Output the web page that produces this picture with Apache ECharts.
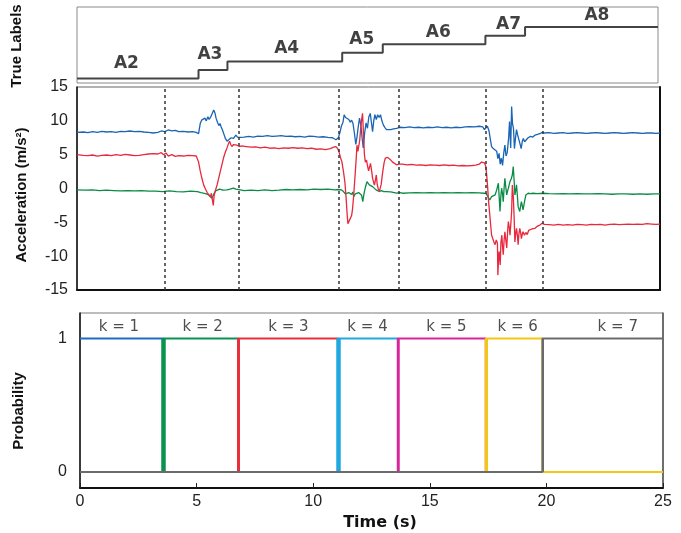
<!DOCTYPE html>
<html><head><meta charset="utf-8">
<script src="https://cdn.jsdelivr.net/npm/echarts@6/dist/echarts.min.js"></script>
<style>html,body{margin:0;padding:0;background:#fff}#c{width:681px;height:533px}</style>
</head><body><div id="c"></div>
<script>
// ---------------- data ----------------
const trueLabels = ['A2','A3','A4','A5','A6','A7','A8'];
const trueLevels = [2,3,4,5,6,7,8];
const trueBounds = [-0.15, 5.06, 6.30, 11.22, 12.96, 17.36, 19.06, 24.76];
const trueLabelX = [1.97, 5.55, 8.84, 12.06, 15.34, 18.35, 22.14];
const trueLabelY = [3.74, 4.79, 5.49, 6.57, 7.35, 8.31, 9.28];

const accBlue = [[-0.17,8.3],[0.1,8.35],[0.3,8.25],[0.5,8.4],[0.7,8.3],[0.9,8.45],[1.1,8.35],[1.3,8.4],[1.5,8.3],[1.7,8.45],[1.9,8.4],[2.1,8.5],[2.3,8.4],[2.5,8.45],[2.7,8.35],[2.9,8.3],[3.1,8.2],[3.3,8.3],[3.45,8.5],[3.6,8.4],[3.75,8.65],[3.9,8.5],[4.05,8.6],[4.2,8.4],[4.4,8.45],[4.6,8.35],[4.8,8.4],[4.95,8.3],[5.05,8.1],
[5.12,9.6],[5.18,10.1],[5.25,9.9],[5.32,10.4],[5.38,10.0],[5.45,10.6],[5.5,10.2],[5.56,10.5],[5.62,10.3],[5.7,11.6],[5.75,11.2],[5.8,10.4],[5.86,9.8],[5.92,9.3],[5.97,9.6],[6.02,9.1],[6.08,8.6],[6.14,8.0],[6.2,7.4],[6.27,7.0],[6.35,7.1],[6.45,7.5],[6.55,7.4],[6.65,7.9],[6.72,7.6],[6.85,7.55],[7.0,7.6],
[7.2,7.7],[7.4,7.6],[7.6,7.75],[7.8,7.7],[8.0,7.8],[8.2,7.7],[8.4,7.75],[8.6,7.8],[8.8,7.7],[9.0,7.75],[9.2,7.65],[9.4,7.7],[9.6,7.6],[9.8,7.75],[10.0,7.7],[10.2,7.6],[10.4,7.65],[10.6,7.55],[10.8,7.5],[10.95,7.2],[11.05,7.5],
[11.12,8.3],[11.18,9.2],[11.25,9.8],[11.3,10.9],[11.36,10.5],[11.42,10.7],[11.5,10.2],[11.56,9.8],[11.62,10.1],[11.68,9.6],[11.74,8.2],[11.8,6.5],[11.85,7.6],[11.9,9.0],[11.96,10.4],[12.02,9.3],[12.07,7.5],[12.12,6.0],[12.18,8.2],[12.24,9.7],[12.3,8.9],[12.36,10.6],[12.42,11.1],[12.48,9.5],[12.52,8.4],[12.57,10.0],[12.62,10.9],[12.68,10.2],[12.74,10.9],[12.8,10.5],[12.86,10.9],[12.92,10.0],[12.98,9.4],[13.05,9.0],[13.12,8.7],[13.2,8.6],[13.3,8.7],[13.42,8.8],[13.55,8.9],[13.7,9.05],
[13.9,9.0],[14.1,9.1],[14.3,9.0],[14.5,9.05],[14.7,8.95],[14.9,9.05],[15.1,9.0],[15.3,9.1],[15.5,9.0],[15.7,9.05],[15.9,8.95],[16.1,9.05],[16.3,9.0],[16.5,9.1],[16.7,9.15],[16.9,9.1],[17.1,9.2],[17.25,9.1],[17.32,8.7],[17.38,8.8],[17.45,9.2],
[17.52,8.5],[17.58,7.2],[17.63,6.2],[17.7,5.9],[17.78,6.1],[17.85,5.5],[17.9,4.4],[17.95,5.2],[18.0,3.6],[18.05,4.5],[18.1,3.4],[18.15,5.2],[18.2,6.4],[18.25,4.8],[18.3,5.3],[18.36,7.4],[18.4,9.9],[18.45,6.0],[18.49,12.1],[18.53,9.5],[18.57,8.9],[18.61,5.9],[18.66,7.6],[18.7,8.7],[18.75,7.9],[18.8,7.7],[18.85,6.6],[18.9,5.9],[18.95,7.0],[18.99,7.4],[19.05,6.9],[19.12,7.2],[19.2,7.5],[19.3,7.7],[19.4,7.6],[19.5,7.9],[19.6,8.0],[19.7,8.1],[19.8,8.3],[19.9,8.2],
[20.1,8.25],[20.3,8.15],[20.5,8.2],[20.7,8.25],[20.9,8.15],[21.1,8.2],[21.3,8.25],[21.5,8.2],[21.7,8.15],[21.9,8.2],[22.1,8.25],[22.3,8.2],[22.5,8.15],[22.7,8.2],[22.9,8.25],[23.1,8.2],[23.3,8.15],[23.5,8.2],[23.7,8.25],[23.9,8.2],[24.1,8.15],[24.3,8.2],[24.5,8.2],[24.7,8.15],[24.86,8.2]];

const accRed = [[-0.17,5.0],[0.1,4.9],[0.3,4.85],[0.5,4.95],[0.7,4.8],[0.9,4.9],[1.1,4.95],[1.3,4.85],[1.5,5.0],[1.7,4.9],[1.9,5.05],[2.1,4.95],[2.3,4.85],[2.5,4.9],[2.7,5.0],[2.9,5.1],[3.1,5.15],[3.3,5.1],[3.45,5.3],[3.55,5.0],[3.65,5.25],[3.75,4.8],[3.9,5.0],[4.05,4.75],[4.2,4.85],[4.4,4.8],[4.6,4.9],[4.8,4.85],[4.95,4.8],
[5.05,3.9],[5.12,2.6],[5.2,1.4],[5.27,0.5],[5.35,-0.1],[5.42,-0.6],[5.5,-0.8],[5.56,-1.2],[5.6,-0.7],[5.64,-1.6],[5.68,-2.5],[5.72,-1.0],[5.78,-0.2],[5.85,0.6],[5.92,1.6],[5.98,2.5],[6.05,3.5],[6.12,4.5],[6.2,5.4],[6.27,6.0],[6.33,6.6],[6.38,7.0],[6.43,6.5],[6.48,6.2],[6.55,6.5],[6.62,6.3],[6.7,6.4],[6.8,6.2],[6.9,6.3],
[7.1,6.2],[7.3,6.1],[7.5,6.15],[7.7,6.0],[7.9,6.1],[8.1,5.95],[8.3,6.0],[8.5,5.9],[8.7,6.0],[8.9,5.95],[9.1,6.05],[9.3,5.95],[9.5,6.0],[9.7,5.9],[9.9,5.95],[10.1,5.8],[10.3,5.85],[10.5,5.75],[10.7,5.9],[10.85,6.1],[10.95,6.2],[11.02,5.9],
[11.08,5.4],[11.14,4.6],[11.2,4.0],[11.27,2.5],[11.33,1.0],[11.38,-1.2],[11.42,-3.4],[11.46,-5.2],[11.5,-5.4],[11.54,-4.6],[11.58,-4.4],[11.62,-4.0],[11.66,-3.0],[11.71,-1.0],[11.75,1.0],[11.78,2.5],[11.82,4.6],[11.85,6.4],[11.89,5.5],[11.93,5.3],[11.97,7.2],[12.01,8.9],[12.05,10.2],[12.09,11.1],[12.13,8.0],[12.17,5.0],[12.21,3.9],[12.26,4.2],[12.3,3.4],[12.35,2.6],[12.39,2.4],[12.43,3.7],[12.48,2.6],[12.52,1.5],[12.56,1.0],[12.6,0.5],[12.64,1.2],[12.68,2.0],[12.72,0.6],[12.76,0.0],[12.81,-0.45],[12.85,0.1],[12.89,0.6],[12.93,1.8],[12.97,2.8],[13.02,3.9],[13.07,4.5],[13.12,4.7],[13.17,4.6],[13.24,4.4],[13.3,4.2],[13.38,3.9],[13.46,3.7],[13.55,3.5],[13.65,3.6],[13.8,3.6],
[14.0,3.5],[14.2,3.55],[14.4,3.45],[14.6,3.5],[14.8,3.4],[15.0,3.5],[15.2,3.45],[15.4,3.4],[15.6,3.5],[15.8,3.4],[16.0,3.45],[16.2,3.35],[16.4,3.4],[16.6,3.35],[16.8,3.4],[16.95,3.45],[17.1,3.6],[17.2,3.9],[17.26,4.0],[17.32,3.8],[17.38,3.3],
[17.42,2.0],[17.46,0.2],[17.5,-1.9],[17.55,-3.8],[17.59,-5.4],[17.63,-6.9],[17.68,-7.4],[17.73,-7.9],[17.78,-8.3],[17.83,-7.6],[17.88,-8.1],[17.9,-12.8],[17.93,-10.2],[17.95,-9.3],[17.98,-10.5],[18.0,-11.3],[18.03,-8.0],[18.07,-6.9],[18.1,-8.6],[18.13,-9.8],[18.17,-7.5],[18.2,-6.4],[18.24,-7.6],[18.28,-8.8],[18.32,-6.2],[18.35,-4.9],[18.39,-5.8],[18.42,-6.9],[18.46,-5.0],[18.49,-3.4],[18.52,0.5],[18.54,-0.2],[18.56,-1.0],[18.6,-4.5],[18.63,-7.9],[18.67,-6.5],[18.7,-5.9],[18.74,-7.0],[18.77,-8.3],[18.8,-6.8],[18.84,-5.9],[18.88,-6.6],[18.91,-7.4],[18.95,-6.7],[18.98,-6.4],[19.04,-6.9],[19.1,-6.5],[19.16,-6.8],[19.22,-6.2],[19.3,-6.1],[19.38,-5.95],[19.48,-5.9],[19.58,-5.6],[19.7,-5.4],[19.8,-5.15],[19.9,-5.3],
[20.1,-5.35],[20.3,-5.4],[20.5,-5.3],[20.7,-5.4],[20.9,-5.35],[21.1,-5.4],[21.3,-5.3],[21.5,-5.35],[21.7,-5.4],[21.9,-5.3],[22.1,-5.35],[22.3,-5.3],[22.5,-5.4],[22.7,-5.3],[22.9,-5.25],[23.1,-5.35],[23.3,-5.3],[23.5,-5.25],[23.7,-5.3],[23.9,-5.25],[24.1,-5.3],[24.3,-5.2],[24.5,-5.25],[24.7,-5.3],[24.86,-5.25]];

const accGreen = [[-0.17,-0.2],[0.2,-0.25],[0.5,-0.2],[0.8,-0.3],[1.1,-0.25],[1.4,-0.3],[1.7,-0.35],[2.0,-0.3],[2.3,-0.35],[2.6,-0.3],[2.9,-0.4],[3.2,-0.4],[3.5,-0.45],[3.8,-0.35],[4.1,-0.45],[4.4,-0.5],[4.7,-0.4],[5.0,-0.45],[5.15,-0.6],[5.26,-0.7],[5.38,-0.8],[5.48,-0.95],[5.55,-0.8],[5.62,-1.45],[5.67,-1.1],[5.72,-0.7],[5.78,-0.35],[5.84,-0.2],[5.95,-0.1],[6.1,-0.25],[6.27,-0.2],[6.4,-0.1],[6.55,0.05],[6.65,-0.1],[6.84,-0.2],[7.0,-0.3],[7.3,-0.25],[7.6,-0.3],[7.9,-0.2],[8.2,-0.3],[8.5,-0.25],[8.8,-0.15],[9.1,-0.2],[9.4,-0.15],[9.7,-0.2],[10.0,-0.1],[10.3,-0.15],[10.6,-0.1],[10.9,-0.2],
[11.05,-0.15],[11.1,0.05],[11.18,-0.2],[11.27,-0.45],[11.35,-0.8],[11.42,-0.95],[11.5,-0.6],[11.56,-0.7],[11.62,-0.9],[11.67,-0.5],[11.71,-1.2],[11.78,-0.8],[11.85,-0.95],[11.92,-0.6],[12.0,-0.7],[12.05,-1.0],[12.1,-1.94],[12.14,-1.0],[12.17,-0.45],[12.22,0.3],[12.28,1.0],[12.35,1.27],[12.38,0.53],[12.44,0.8],[12.52,0.28],[12.6,0.0],[12.67,-0.2],[12.75,-0.3],[12.81,-0.45],[12.9,-0.3],[13.0,-0.45],[13.1,-0.45],[13.3,-0.5],[13.55,-0.7],[13.7,-0.6],[13.8,-0.7],
[14.1,-0.65],[14.4,-0.6],[14.7,-0.65],[15.0,-0.6],[15.3,-0.65],[15.6,-0.6],[15.9,-0.65],[16.2,-0.6],[16.5,-0.65],[16.8,-0.6],[17.1,-0.65],[17.3,-0.7],[17.4,-0.75],[17.47,-0.95],[17.55,-1.7],[17.63,-1.2],[17.7,-1.1],[17.78,-0.95],[17.85,-0.2],[17.92,0.78],[17.96,-1.5],[17.99,-3.4],[18.03,-1.0],[18.06,0.04],[18.1,-0.8],[18.13,-1.94],[18.17,0.2],[18.2,1.52],[18.24,0.2],[18.28,-0.95],[18.32,-0.3],[18.35,0.04],[18.39,0.6],[18.42,1.02],[18.47,1.4],[18.52,2.0],[18.56,3.24],[18.6,1.0],[18.63,-0.95],[18.67,-0.2],[18.7,0.53],[18.74,-1.2],[18.77,-2.68],[18.8,-3.0],[18.84,-3.4],[18.88,-2.5],[18.91,-1.94],[18.95,-2.6],[18.98,-3.17],[19.04,-2.0],[19.1,-0.95],[19.2,-0.7],[19.3,-0.75],[19.4,-0.7],[19.6,-0.75],[19.84,-0.7],
[20.1,-0.75],[20.4,-0.8],[20.7,-0.75],[21.0,-0.8],[21.3,-0.75],[21.6,-0.8],[21.9,-0.8],[22.2,-0.75],[22.5,-0.8],[22.8,-0.85],[23.1,-0.8],[23.4,-0.8],[23.7,-0.85],[24.0,-0.8],[24.3,-0.85],[24.6,-0.8],[24.86,-0.8]];

const kLabels = ['k = 1','k = 2','k = 3','k = 4','k = 5','k = 6','k = 7'];
const kBounds = [0, 3.58, 6.79, 11.08, 13.63, 17.4, 19.83, 25];
const kLabelX = [1.67, 5.26, 8.94, 12.33, 15.71, 18.77, 23.06];
const kLabelY = 1.084;
const probTicks = [0, 1];

// ---------------- styles ----------------
const kColors = ['#1f6cc0','#0a9250','#e8303c','#20a8e0','#e0229a','#f2c814','#6b6b6b'];
const kEdgeWidth = [0, 4.5, 3, 4.5, 2.5, 3, 2];
const accColors = { blue:'#1a64b4', red:'#e8283c', green:'#0a8c46' };

// ---------------- build ----------------
const stepData = trueLevels.map((lv,i)=>[trueBounds[i], lv]);
stepData.push([trueBounds[trueBounds.length-1], trueLevels[trueLevels.length-1]]);

const probSeries = kLabels.map((name,k)=>{
  const s = kBounds[k], e = kBounds[k+1];
  const pts = [];
  if (s > kBounds[0]) { pts.push([kBounds[0],0]); pts.push([s,0]); }
  pts.push([s,1]); pts.push([e,1]);
  if (e < kBounds[kBounds.length-1]) { pts.push([e,0]); pts.push([kBounds[kBounds.length-1],0]); }
  const ser = {
    type:'line', name, xAxisIndex:2, yAxisIndex:2, data:pts, showSymbol:false,
    lineStyle:{color:kColors[k], width:2}, itemStyle:{color:kColors[k]}, z:3+k
  };
  if (k>0) ser.markLine = { silent:true, symbol:['none','none'], label:{show:false}, z:3+k,
    lineStyle:{color:kColors[k], width:kEdgeWidth[k], type:'solid', opacity:1},
    emphasis:{disabled:true},
    data:[[{coord:[s,0]},{coord:[s,1]}]] };
  return ser;
});

const chart = echarts.init(document.getElementById('c'), null, {renderer:'canvas'});
const tickFont = {fontFamily:'Liberation Sans, Arial, sans-serif', fontSize:16, color:'#222'};

chart.setOption({
  animation:false,
  backgroundColor:'#fff',
  grid:[
    {left:77, top:7, width:581, height:76, show:true, borderColor:'#8a8a8a', borderWidth:1, backgroundColor:'transparent'},
    {left:77, top:87, width:583, height:203, show:true, borderColor:'#666', borderWidth:1, backgroundColor:'transparent'},
    {left:80, top:313, width:583, height:175, show:true, borderColor:'#7a7a7a', borderWidth:1, backgroundColor:'transparent'}
  ],
  xAxis:[
    {gridIndex:0, type:'value', min:-0.15, max:24.76, show:false},
    {gridIndex:1, type:'value', min:-0.17, max:24.86, axisLine:{show:true, onZero:false, lineStyle:{color:'#111', width:2}}, axisTick:{show:false}, axisLabel:{show:false}, splitLine:{show:false}},
    {gridIndex:2, type:'value', min:0, max:25, interval:5,
      axisLine:{show:true, onZero:false, lineStyle:{color:'#111', width:2}},
      axisTick:{show:true, inside:true, length:5, lineStyle:{color:'#222', width:1}},
      axisLabel:Object.assign({margin:6}, tickFont), splitLine:{show:false}}
  ],
  yAxis:[
    {gridIndex:0, type:'value', min:1.49, max:10.33, show:false},
    {gridIndex:1, type:'value', min:-15, max:15, interval:5,
      axisLine:{show:true, onZero:false, lineStyle:{color:'#111', width:1.5}}, axisTick:{show:false},
      axisLabel:Object.assign({margin:9}, tickFont), splitLine:{show:false}},
    {gridIndex:2, type:'value', min:-0.12, max:1.19,
      axisLine:{show:true, onZero:false, lineStyle:{color:'#111', width:1.5}}, axisTick:{show:false},
      axisLabel:Object.assign({margin:13, customValues:probTicks}, tickFont), splitLine:{show:false}},
    {gridIndex:1, type:'value', position:'right', min:-15, max:15, axisLine:{show:true, onZero:false, lineStyle:{color:'#111', width:2}}, axisTick:{show:false}, axisLabel:{show:false}, splitLine:{show:false}},
    {gridIndex:2, type:'value', position:'right', min:-0.12, max:1.19, axisLine:{show:true, onZero:false, lineStyle:{color:'#555', width:1.5}}, axisTick:{show:false}, axisLabel:{show:false}, splitLine:{show:false}}
  ],
  series:[
    {type:'line', xAxisIndex:0, yAxisIndex:0, step:'end', data:stepData, showSymbol:false,
      lineStyle:{color:'#444', width:2}},
    {type:'scatter', xAxisIndex:0, yAxisIndex:0, symbolSize:0,
      data:trueLabels.map((n,i)=>({name:n, value:[trueLabelX[i], trueLabelY[i]]})),
      label:{show:true, position:'inside', formatter:'{b}', fontFamily:'DejaVu Sans', fontWeight:'bold', fontSize:17, color:'#111'}},
    {type:'line', name:'blue', xAxisIndex:1, yAxisIndex:1, data:accBlue, showSymbol:false,
      lineStyle:{color:accColors.blue, width:1.3},
      markLine:{silent:true, symbol:['none','none'], label:{show:false},
        lineStyle:{color:'#333', width:1.5, type:[3,3]},
        data:kBounds.slice(1,-1).map(v=>({xAxis:v}))}},
    {type:'line', name:'green', xAxisIndex:1, yAxisIndex:1, data:accGreen, showSymbol:false,
      lineStyle:{color:accColors.green, width:1.3}},
    {type:'line', name:'red', xAxisIndex:1, yAxisIndex:1, data:accRed, showSymbol:false,
      lineStyle:{color:accColors.red, width:1.3}},
    ...probSeries,
    {type:'scatter', xAxisIndex:2, yAxisIndex:2, symbolSize:0,
      data:kLabels.map((n,i)=>({name:n, value:[kLabelX[i], kLabelY]})),
      label:{show:true, position:'inside', formatter:'{b}', fontFamily:'DejaVu Sans', fontSize:15, color:'#222'}}
  ],
  graphic:[
    {type:'text', x:17, y:46, rotation:Math.PI/2, style:{text:'True Labels', font:'bold 15px "Liberation Sans", Arial, sans-serif', fill:'#111', align:'center', verticalAlign:'middle'}},
    {type:'text', x:22, y:195, rotation:Math.PI/2, style:{text:'Acceleration (m/s²)', font:'bold 15px "Liberation Sans", Arial, sans-serif', fill:'#111', align:'center', verticalAlign:'middle'}},
    {type:'text', x:19, y:411, rotation:Math.PI/2, style:{text:'Probability', font:'bold 15px "Liberation Sans", Arial, sans-serif', fill:'#111', align:'center', verticalAlign:'middle'}},
    {type:'text', x:380, y:523, style:{text:'Time (s)', font:'bold 16px "DejaVu Sans", sans-serif', fill:'#111', align:'center', verticalAlign:'middle'}}
  ]
});
</script></body></html>
